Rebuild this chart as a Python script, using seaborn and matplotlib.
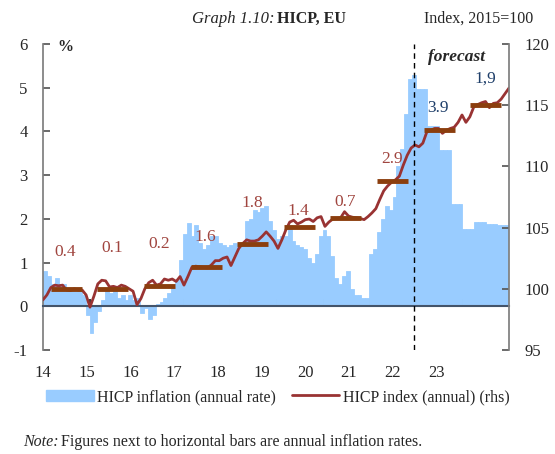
import numpy as np
import pandas as pd
import matplotlib.pyplot as plt
import seaborn as sns
from matplotlib.patches import Patch
from matplotlib.lines import Line2D

# year labels on the category axis
years = ['14', '15', '16', '17', '18', '19', '20', '21', '22', '23']

# HICP inflation, annual rate (%), monthly 2014-2021
infl_monthly = [
    0.8, 0.7, 0.5, 0.65, 0.5, 0.5, 0.4, 0.4, 0.35, 0.35, 0.25, -0.2,       # 2014
    -0.6, -0.35, -0.1, 0.15, 0.4, 0.3, 0.35, 0.2, 0.25, 0.15, 0.25, 0.15,  # 2015
    0.2, -0.15, -0.05, -0.3, -0.2, 0.05, 0.1, 0.2, 0.3, 0.45, 0.6, 1.05,   # 2016
    1.65, 1.9, 1.6, 1.85, 1.45, 1.3, 1.4, 1.6, 1.6, 1.45, 1.4, 1.35,       # 2017
    1.4, 1.45, 1.4, 1.4, 1.95, 2.0, 2.2, 2.15, 2.25, 2.3, 1.95, 1.75,      # 2018
    1.55, 1.6, 1.6, 1.85, 1.5, 1.4, 1.35, 1.3, 1.1, 1.0, 1.2, 1.6,         # 2019
    1.75, 1.6, 1.15, 0.65, 0.5, 0.7, 0.8, 0.4, 0.25, 0.25, 0.2, 0.2,       # 2020
    1.2, 1.3, 1.7, 2.0, 2.3, 2.2, 2.5, 3.2, 3.6, 4.4, 5.2, 5.3,            # 2021
]
# forecast, quarterly 2022-2023
infl_quarterly = [4.97, 4.12, 3.57, 2.34, 1.76, 1.92, 1.88, 1.85]

# HICP index (2015=100), monthly 2014-2023
hicp_index = [
    99.1, 99.5, 100.1, 100.3, 100.25, 100.3, 99.9, 99.85, 100.0, 99.9, 99.9, 99.5,
    98.5, 99.4, 100.4, 100.7, 100.65, 100.15, 100.2, 100.1, 100.3, 100.2, 100.0, 99.8,
    98.7, 99.2, 100.0, 100.5, 100.7, 100.3, 100.4, 100.8, 100.7, 100.8, 100.6, 101.0,
    100.3, 101.0, 101.75, 101.85, 101.8, 101.75, 101.7, 101.95, 102.3, 102.3, 102.5, 102.6,
    101.9, 102.6, 103.3, 103.7, 104.0, 103.9, 103.9, 104.0, 104.3, 104.65, 104.3, 103.9,
    103.3, 104.0, 104.8, 105.45, 105.6, 105.3, 105.45, 105.65, 105.7, 105.5, 105.8, 105.9,
    105.1, 105.45, 105.7, 105.75, 105.8, 106.3, 105.95, 105.85, 105.8, 105.75, 105.65, 105.9,
    106.2, 106.55, 107.3, 108.0, 108.4, 108.7, 108.9, 109.2, 110.1, 110.9, 111.5, 111.75,
    111.6, 111.9, 112.8, 112.95, 113.1, 113.1, 112.7, 112.95, 113.1, 113.2, 113.6, 114.2,
    113.6, 114.05, 114.85, 115.05, 115.2, 115.3, 114.8, 115.15, 115.2, 115.5, 115.95, 116.4,
]

# annual average index and the annual inflation printed next to it
annual_index = [99.96, 100.0, 100.23, 101.76, 103.63, 105.07, 105.81, 108.83, 112.97, 115.02]
annual_rate_txt = ['0.4', '0.1', '0.2', '1.6', '1.8', '1.4', '0.7', '2.9', '3.9', '1,9']

BLUE = '#99CCFF'
RED = '#993333'
BROWN = '#8B3E0E'
TXT_RED = '#A0453F'
TXT_BLUE = '#1F3F6A'

rates = list(infl_monthly) + list(np.repeat(infl_quarterly, 3))
df = pd.DataFrame({'x': np.arange(len(rates)) + 0.5, 'rate': rates})

sns.set_theme(style='white')
plt.rcParams['font.family'] = ['Liberation Serif', 'DejaVu Serif']
plt.rcParams['axes.unicode_minus'] = False

fig = plt.figure(figsize=(5.55, 4.54), dpi=100)
ax = fig.add_axes([43 / 555, 104 / 454, 466 / 555, 306 / 454])

sns.barplot(data=df, x='x', y='rate', native_scale=True, width=1, color=BLUE,
            saturation=1, errorbar=None, linewidth=0.6, edgecolor=BLUE, ax=ax)
ax.set_xlim(0, 120)
ax.set_ylim(-1, 6)
ax.set_xlabel('')
ax.set_ylabel('')

ax2 = ax.twinx()
ax2.set_ylim(95, 120)
sns.lineplot(x=np.linspace(0, 120, len(hicp_index)), y=hicp_index, ax=ax2,
             color=RED, lw=2, zorder=2)
starts = np.arange(len(annual_index)) * 12 + 2
ax2.hlines(annual_index, starts, starts + 8, color=BROWN, lw=3.5, zorder=3)

# annual rate labels
label_y = [103.0, 103.3, 103.7, 104.2, 107.0, 106.35, 107.1, 110.6, 114.8, 117.2]
for i, (t, yy) in enumerate(zip(annual_rate_txt, label_y)):
    c = TXT_BLUE if i >= 8 else TXT_RED
    ax2.text(12 * i + 5.8, yy, t, color=c, fontsize=12.5, ha='center', va='center')

ax2.axvline(95.5, color='black', ls=(0, (4, 3)), lw=1, zorder=4)
ax2.set_ylabel('')

# axes styling
ax.set_yticks(range(-1, 7))
ax.tick_params(axis='y', direction='in', length=5, pad=11, labelsize=12,
               color='#595959', left=True)
ax.spines['left'].set_color('#7f7f7f')
ax.spines['top'].set_visible(False)
ax.spines['right'].set_visible(False)
ax.spines['bottom'].set_position(('data', 0))
ax.spines['bottom'].set_color('#44546A')
ax.spines['bottom'].set_linewidth(1.5)
ax.set_xticks(np.arange(12, 120, 12))
ax.set_xticklabels([])
ax.tick_params(axis='x', direction='in', length=5, color='#222222', bottom=True)

sec = ax.secondary_xaxis('bottom')
sec.set_xticks(np.arange(len(years)) * 11.25, labels=years)
sec.tick_params(length=0, pad=11, labelsize=12)
sec.spines['bottom'].set_visible(False)

ax2.set_yticks(range(95, 121, 5))
ax2.tick_params(axis='y', direction='in', length=5, pad=11, labelsize=12,
                color='#595959', right=True)
for s in ['top', 'left', 'bottom']:
    ax2.spines[s].set_visible(False)
ax2.spines['right'].set_color('#7f7f7f')

ax.text(0.047, 0.99, '%', transform=ax.transAxes, fontsize=11.5,
        fontweight='bold', ha='center', va='center')
ax.text(0.888, 0.957, 'forecast', transform=ax.transAxes, fontsize=12.5,
        fontweight='bold', style='italic', ha='center', va='center')

# titles and notes
fig.text(274 / 555, 1 - 23 / 454, 'Graph 1.10:', style='italic', fontsize=12,
         ha='right', va='baseline')
fig.text(277 / 555, 1 - 23 / 454, 'HICP, EU', fontweight='bold', fontsize=11.5,
         ha='left', va='baseline')
fig.text(533 / 555, 1 - 23 / 454, 'Index, 2015=100', fontsize=11.5,
         ha='right', va='baseline')

handles = [Patch(color=BLUE), Line2D([0], [0], color=RED, lw=2)]
fig.legend(handles, ['HICP inflation (annual rate)', 'HICP index (annual) (rhs)'],
           loc='center', bbox_to_anchor=(0.5, 1 - 397 / 454), ncol=2, frameon=False,
           fontsize=11.5, handlelength=3, handletextpad=0.2, columnspacing=1.0)

fig.text(23 / 555, 1 - 446 / 454, 'Note:', style='italic', fontsize=11.5,
         ha='left', va='baseline')
fig.text(61 / 555, 1 - 446 / 454,
         'Figures next to horizontal bars are annual inflation rates.',
         fontsize=11.5, ha='left', va='baseline')

fig.savefig('out.png', dpi=100)
